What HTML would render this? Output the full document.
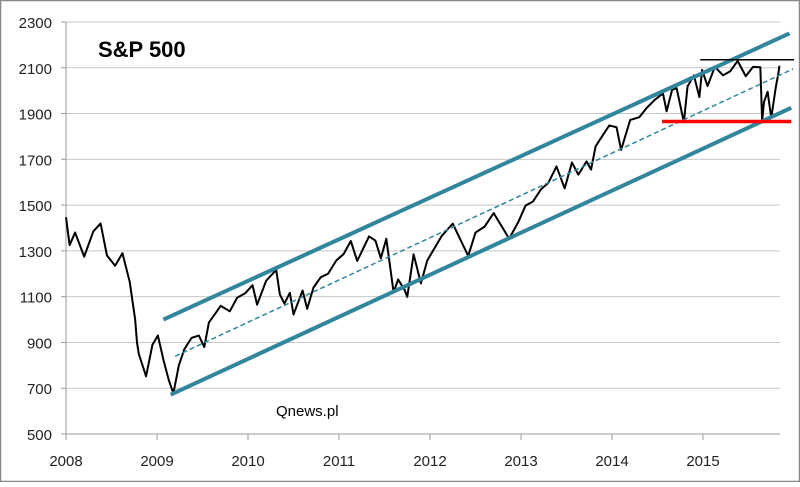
<!DOCTYPE html>
<html><head><meta charset="utf-8"><style>
html,body{margin:0;padding:0;background:#fff}
svg text{font-family:"Liberation Sans",sans-serif}
</style></head><body>
<svg id="chart" width="800" height="482" xmlns="http://www.w3.org/2000/svg">
<rect x="0.5" y="0.5" width="799" height="481" fill="#fff" stroke="#888" stroke-width="1.5"/>
<g id="grid"></g><g id="axes"></g><g id="series"></g><g id="overlays"></g>
<text x="98" y="57" font-size="22" font-weight="bold" fill="#000">S&amp;P 500</text>
<text x="276" y="416" font-size="15" fill="#000">Qnews.pl</text>
</svg>
<script>
const yTicks=[500,700,900,1100,1300,1500,1700,1900,2100,2300];
const xTicks=[2008,2009,2010,2011,2012,2013,2014,2015];
const dates=[2008.0,2008.04,2008.1,2008.2,2008.3,2008.38,2008.45,2008.54,2008.62,2008.7,2008.76,2008.78,2008.8,2008.88,2008.95,
2009.01,2009.07,2009.13,2009.18,2009.24,2009.3,2009.38,2009.46,2009.52,2009.57,2009.63,2009.7,2009.8,2009.88,2009.97,
2010.05,2010.1,2010.2,2010.31,2010.35,2010.4,2010.46,2010.5,2010.6,2010.65,2010.72,2010.8,2010.88,2010.97,
2011.05,2011.13,2011.2,2011.33,2011.4,2011.46,2011.52,2011.6,2011.65,2011.72,2011.75,2011.82,2011.9,2011.97,
2012.05,2012.13,2012.25,2012.42,2012.5,2012.6,2012.7,2012.87,2012.97,
2013.05,2013.13,2013.22,2013.3,2013.39,2013.48,2013.56,2013.63,2013.72,2013.77,2013.82,2013.9,2013.97,
2014.05,2014.1,2014.2,2014.3,2014.38,2014.47,2014.56,2014.6,2014.66,2014.71,2014.79,2014.83,2014.9,2014.96,2014.99,
2015.05,2015.13,2015.22,2015.3,2015.38,2015.47,2015.55,2015.63,2015.65,2015.67,2015.71,2015.75,2015.8,2015.83,2015.84];
const values=[1447,1325,1380,1275,1385,1420,1280,1235,1290,1165,1000,900,850,752,890,
930,825,735,677,800,870,920,930,880,987,1020,1060,1036,1095,1115,
1150,1065,1170,1217,1110,1070,1117,1022,1127,1047,1140,1185,1200,1258,
1286,1343,1256,1363,1345,1268,1353,1119,1175,1130,1099,1285,1158,1258,
1312,1366,1419,1278,1380,1406,1465,1353,1426,
1498,1515,1569,1597,1669,1573,1686,1633,1691,1655,1757,1806,1848,
1840,1741,1872,1884,1924,1960,1988,1910,2003,2011,1862,2018,2067,1972,2090,
2020,2104,2067,2085,2130,2063,2104,2102,1867,1950,1995,1881,2015,2079,2109];
const upperChan=[[2009.07,1000],[2015.95,2250]];
const lowerChan=[[2009.15,672],[2015.97,1925]];
const midChan=[[2009.2,840],[2015.99,2095]];
const supportLine=[[2014.55,1865],[2015.97,1865]];
const resistLine=[[2014.97,2135],[2016.0,2135]];
const NS="http://www.w3.org/2000/svg";
const X=t=>66+(t-2008)*91;
const Y=v=>434-(v-500)*0.2289;
function mk(tag,attrs,parent){const e=document.createElementNS(NS,tag);for(const k in attrs)e.setAttribute(k,attrs[k]);document.getElementById(parent).appendChild(e);return e;}
yTicks.forEach(v=>{
 if(v>500){const g=mk('line',{x1:66,x2:780,y1:Y(v),y2:Y(v),stroke:'#c8c8c8','stroke-width':1},'grid');
 
 }
 const t=mk('text',{x:52,y:Y(v)+6,'text-anchor':'end','font-size':15,fill:'#222'},'axes');t.textContent=v;
 
 
 mk('line',{x1:61,x2:66,y1:Y(v),y2:Y(v),stroke:'#999'},'axes');
});
xTicks.forEach(yr=>{
 const t=mk('text',{x:X(yr),y:466,'text-anchor':'middle','font-size':15,fill:'#222'},'axes');t.textContent=yr;
 
 
 mk('line',{x1:X(yr),x2:X(yr),y1:434,y2:440,stroke:'#999'},'axes');
});
const ya=mk('line',{x1:66,x2:66,y1:Y(2300),y2:434,stroke:'#999'},'axes');


const xa=mk('line',{x1:66,x2:780,y1:434,y2:434,stroke:'#999'},'axes');


function seg(p,stroke,w,name,dash){const l=mk('line',{x1:X(p[0][0]),y1:Y(p[0][1]),x2:X(p[1][0]),y2:Y(p[1][1]),stroke:stroke,'stroke-width':w},'overlays');
 if(dash)l.setAttribute('stroke-dasharray',dash);
 
 }
seg(upperChan,'#31859c',4,'upper-channel-line');
seg(lowerChan,'#31859c',4,'lower-channel-line');
seg(midChan,'#31859c',1.5,'mid-channel-line','5,3');
seg(supportLine,'#ff0000',3.5,'support-line');
seg(resistLine,'#000',1.5,'resistance-line');
const path=mk('polyline',{points:dates.map((d,i)=>X(d)+','+Y(values[i])).join(' '),fill:'none',stroke:'#000','stroke-width':2,'stroke-linejoin':'round'},'series');


</script>
</body></html>
